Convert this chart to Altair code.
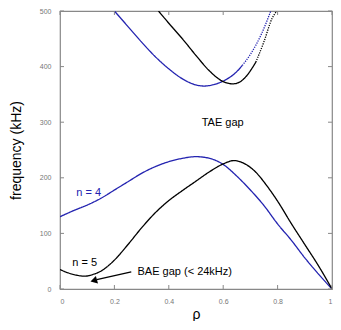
import altair as alt
import pandas as pd

# ---- data ----
blue_low_rho = [0, 0.05, 0.1, 0.15, 0.2, 0.25, 0.3, 0.35, 0.4, 0.45, 0.5, 0.55, 0.6, 0.65, 0.7, 0.75, 0.8, 0.85, 0.9, 0.95, 1.0]
blue_low_f = [130, 141, 151, 163, 178, 193, 208, 220, 229, 235, 238, 235, 224, 203, 178, 150, 117, 88, 56, 27, 0]

black_low_rho = [0, 0.03, 0.06, 0.09, 0.12, 0.15, 0.2, 0.25, 0.3, 0.35, 0.4, 0.45, 0.5, 0.55, 0.6, 0.64, 0.68, 0.72, 0.76, 0.8, 0.85, 0.9, 0.95, 1.0]
black_low_f = [35, 29, 25, 23, 26, 32, 52, 80, 110, 137, 159, 177, 194, 211, 225, 231, 225, 210, 186, 158, 118, 80, 42, 0]

blue_up_rho = [0.2, 0.25, 0.3, 0.35, 0.4, 0.45, 0.5, 0.53, 0.56, 0.6, 0.65, 0.67]
blue_up_f = [500, 472, 444, 418, 396, 378, 367, 365, 367, 374, 391, 402]
blue_up_dot_rho = [0.67, 0.7, 0.74, 0.775]
blue_up_dot_f = [402, 422, 458, 500]

black_up_rho = [0.362, 0.4, 0.45, 0.5, 0.55, 0.6, 0.635, 0.66, 0.68, 0.72]
black_up_f = [500, 478, 450, 420, 392, 373, 369, 372, 380, 408]
black_up_dot_rho = [0.72, 0.75, 0.78, 0.797]
black_up_dot_f = [408, 445, 487, 500]

x_ticks = [0, 0.2, 0.4, 0.6, 0.8, 1.0]
y_ticks = [0, 100, 200, 300, 400, 500]

BLUE = "#2323b0"
W, H = 272, 278

rows = []
def add(series, seg, style, xs, ys):
    for a, b in zip(xs, ys):
        rows.append({"rho": a, "f": b, "series": series, "seg": seg, "style": style})

add("n4", "n4_low", "solid", blue_low_rho, blue_low_f)
add("n5", "n5_low", "solid", black_low_rho, black_low_f)
add("n4", "n4_up", "solid", blue_up_rho, blue_up_f)
add("n4", "n4_up_dot", "dot", blue_up_dot_rho, blue_up_dot_f)
add("n5", "n5_up", "solid", black_up_rho, black_up_f)
add("n5", "n5_up_dot", "dot", black_up_dot_rho, black_up_dot_f)
df = pd.DataFrame(rows)

xs = alt.Scale(domain=[0, 1], nice=False)
ys = alt.Scale(domain=[0, 500], nice=False)

lines = alt.Chart(df).mark_line(strokeWidth=1.3, clip=True, interpolate="monotone").encode(
    x=alt.X("rho:Q", scale=xs, axis=alt.Axis(values=x_ticks, format="~g", title="ρ", grid=False,
            domain=False, ticks=False, labelFontSize=7, labelColor="#777",
            labelPadding=8, titleFontSize=14, titleFontWeight="normal",
            titlePadding=3, titleFont="Liberation Sans", labelFont="Liberation Sans")),
    y=alt.Y("f:Q", scale=ys, axis=alt.Axis(values=y_ticks, title="frequency (kHz)", grid=False,
            domain=False, ticks=False, labelFontSize=7, labelColor="#777",
            labelPadding=9, titleFontSize=14, titleFontWeight="normal",
            titlePadding=16, titleFont="Liberation Sans", labelFont="Liberation Sans")),
    color=alt.Color("series:N", scale=alt.Scale(domain=["n4", "n5"], range=[BLUE, "black"]), legend=None),
    detail="seg:N",
    strokeDash=alt.StrokeDash("style:N", scale=alt.Scale(domain=["solid", "dot"], range=[[1, 0], [1.2, 1.2]]), legend=None),
)

xt = pd.DataFrame({"v": x_ticks})
yt = pd.DataFrame({"v": y_ticks})
tc = "#888"
tick_b = alt.Chart(xt).mark_rule(color=tc).encode(x=alt.X("v:Q", scale=xs), y=alt.value(H), y2=alt.value(H - 4))
tick_t = alt.Chart(xt).mark_rule(color=tc).encode(x=alt.X("v:Q", scale=xs), y=alt.value(0), y2=alt.value(4))
tick_l = alt.Chart(yt).mark_rule(color=tc).encode(y=alt.Y("v:Q", scale=ys), x=alt.value(0), x2=alt.value(4))
tick_r = alt.Chart(yt).mark_rule(color=tc).encode(y=alt.Y("v:Q", scale=ys), x=alt.value(W), x2=alt.value(W - 4))

labels = pd.DataFrame({
    "rho": [0.598, 0.06, 0.045, 0.285],
    "f": [299, 173, 46, 30],
    "text": ["TAE gap", "n = 4", "n = 5", "BAE gap (< 24kHz)"],
    "c": ["black", BLUE, "black", "black"],
})
txt_c = alt.Chart(labels.iloc[[0]]).mark_text(fontSize=11, font="Liberation Sans", align="center").encode(
    x=alt.X("rho:Q", scale=xs), y=alt.Y("f:Q", scale=ys), text="text:N", color=alt.Color("c:N", scale=None))
txt_l = alt.Chart(labels.iloc[1:]).mark_text(fontSize=11, font="Liberation Sans", align="left").encode(
    x=alt.X("rho:Q", scale=xs), y=alt.Y("f:Q", scale=ys), text="text:N", color=alt.Color("c:N", scale=None))

arrow_rho = [0.262, 0.135]
arrow_f = [31, 17]
arr = pd.DataFrame({"rho": arrow_rho, "f": arrow_f})
shaft = alt.Chart(arr).mark_line(color="black", strokeWidth=1.3).encode(
    x=alt.X("rho:Q", scale=xs), y=alt.Y("f:Q", scale=ys))
head = alt.Chart(pd.DataFrame({"rho": [0.124], "f": [15]})).mark_point(
    shape="triangle-left", filled=True, color="black", size=60, angle=344, opacity=1).encode(
    x=alt.X("rho:Q", scale=xs), y=alt.Y("f:Q", scale=ys))

chart = alt.layer(lines, tick_b, tick_t, tick_l, tick_r, txt_c, txt_l, shaft, head).properties(
    width=W, height=H,
    autosize=alt.AutoSizeParams(type="none"),
    padding={"left": 52, "top": 3, "right": 1, "bottom": 32},
).configure_view(stroke="#888", strokeWidth=1.2)

chart.save("out.html", embed_options={"renderer": "svg", "actions": False})
